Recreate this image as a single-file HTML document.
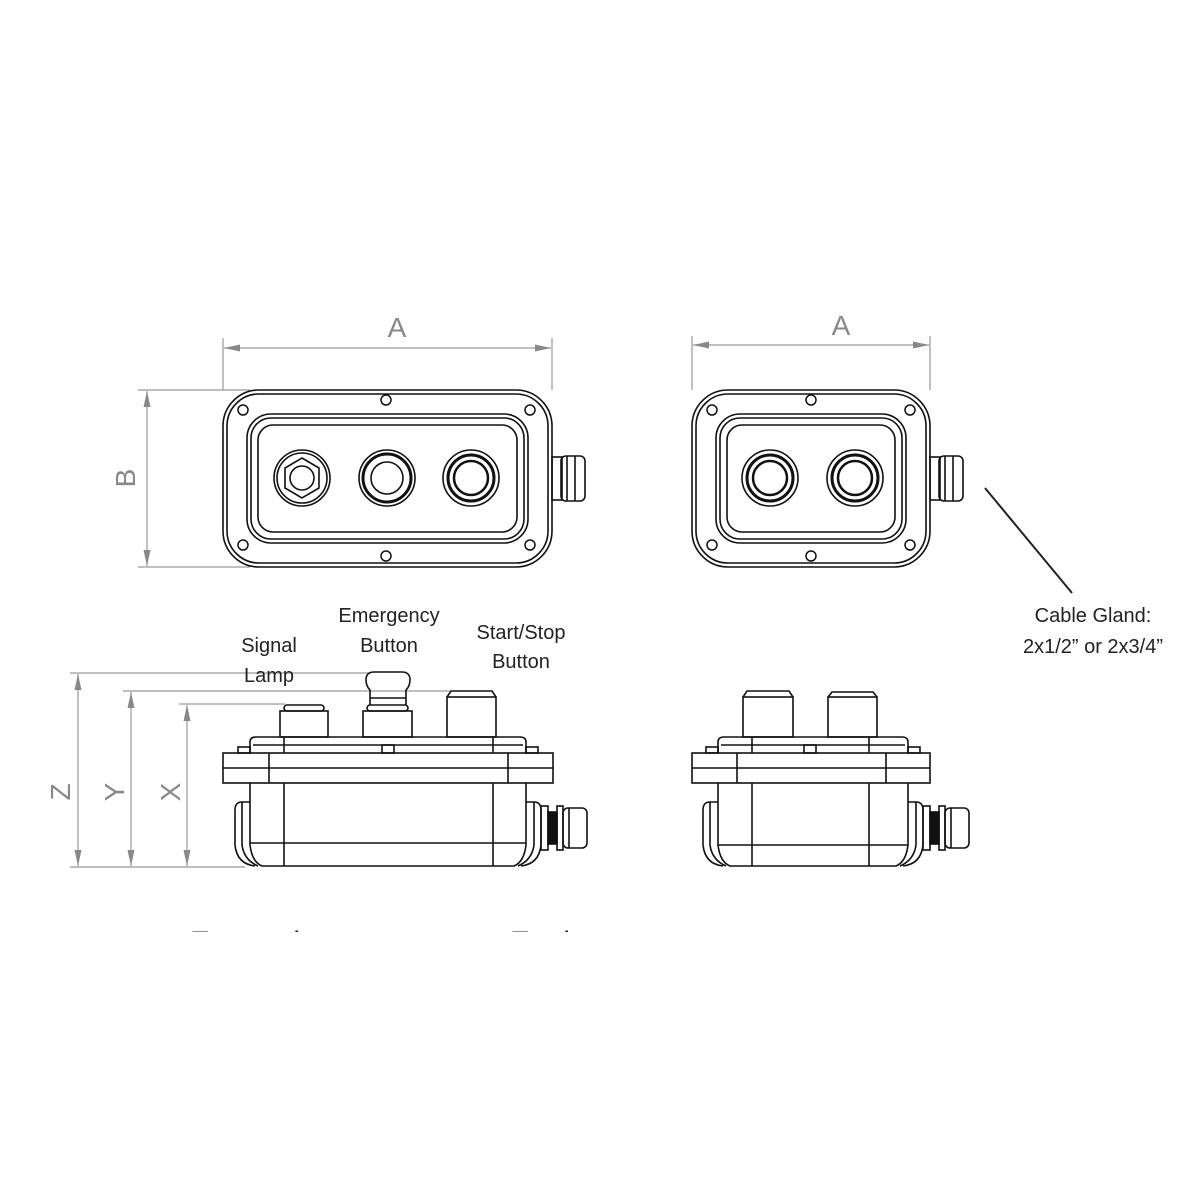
<!DOCTYPE html>
<html><head><meta charset="utf-8"><style>
html,body{margin:0;padding:0;background:#fff;}
svg{display:block;}
text{font-family:"Liberation Sans",sans-serif;}
</style></head><body>
<svg width="1200" height="1200" viewBox="0 0 1200 1200" xmlns="http://www.w3.org/2000/svg">
<defs>
<marker id="ar" viewBox="0 0 16 16" refX="16" refY="8" markerWidth="16" markerHeight="16" orient="auto-start-reverse" markerUnits="userSpaceOnUse"><path d="M0,4.5 L16,8 L0,11.5 Z" fill="#888"/></marker>
<clipPath id="cb"><rect x="0" y="0" width="1200" height="932"/></clipPath>
</defs>
<g stroke="#999" stroke-width="1.2" fill="none">
<line x1="223" y1="338" x2="223" y2="390"/><line x1="552" y1="338" x2="552" y2="390"/>
<line x1="224" y1="348" x2="551" y2="348" marker-start="url(#ar)" marker-end="url(#ar)"/>
<line x1="138" y1="390" x2="250" y2="390"/><line x1="138" y1="567" x2="250" y2="567"/>
<line x1="147" y1="391" x2="147" y2="566" marker-start="url(#ar)" marker-end="url(#ar)"/>
<line x1="692" y1="336" x2="692" y2="390"/><line x1="930" y1="336" x2="930" y2="390"/>
<line x1="693" y1="345" x2="929" y2="345" marker-start="url(#ar)" marker-end="url(#ar)"/>
<line x1="70" y1="673" x2="370" y2="673"/>
<line x1="123" y1="691" x2="450" y2="691"/>
<line x1="179" y1="704" x2="285" y2="704"/>
<line x1="70" y1="867" x2="245" y2="867"/>
<line x1="78" y1="674" x2="78" y2="866" marker-start="url(#ar)" marker-end="url(#ar)"/>
<line x1="131" y1="692" x2="131" y2="866" marker-start="url(#ar)" marker-end="url(#ar)"/>
<line x1="187" y1="705" x2="187" y2="866" marker-start="url(#ar)" marker-end="url(#ar)"/>
</g>
<g fill="#888" font-size="28">
<text x="397" y="337" text-anchor="middle">A</text>
<text x="841" y="335" text-anchor="middle">A</text>
<text transform="translate(135,478) rotate(-90)" text-anchor="middle">B</text>
<text transform="translate(70,792) rotate(-90)" text-anchor="middle">Z</text>
<text transform="translate(124,792) rotate(-90)" text-anchor="middle">Y</text>
<text transform="translate(180,792) rotate(-90)" text-anchor="middle">X</text>
</g>
<g fill="#222" font-size="20" text-anchor="middle">
<text x="269" y="652">Signal</text><text x="269" y="682">Lamp</text>
<text x="389" y="622">Emergency</text><text x="389" y="652">Button</text>
<text x="521" y="639">Start/Stop</text><text x="521" y="668">Button</text>
<text x="1093" y="622">Cable Gland:</text><text x="1093" y="653">2x1/2” or 2x3/4”</text>
</g>
<line x1="985" y1="488" x2="1072" y2="593" stroke="#222" stroke-width="2"/>
<g clip-path="url(#cb)" fill="#222" font-size="30"><text x="190" y="952">External</text><text x="510" y="952">Engine</text></g>

<g stroke="#111" stroke-width="1.6" fill="none">
<rect x="223" y="390" width="329" height="177" rx="36"/>
<rect x="227" y="394" width="321" height="169" rx="32"/>
<rect x="247" y="414" width="281" height="129" rx="24"/>
<rect x="251" y="418" width="273" height="121" rx="20"/>
<rect x="258" y="425" width="259" height="107" rx="15"/>
<circle cx="302" cy="478" r="28"/><circle cx="302" cy="478" r="25"/><polygon points="302,458 319,468 319,488 302,498 285,488 285,468"/><circle cx="302" cy="478" r="12"/>
<circle cx="387" cy="478" r="28"/><circle cx="387" cy="478" r="24" stroke-width="3"/><circle cx="387" cy="478" r="16"/>
<circle cx="471" cy="478" r="28"/><circle cx="471" cy="478" r="23" stroke-width="3"/><circle cx="471" cy="478" r="17" stroke-width="2.5"/>
<rect x="552" y="457" width="10" height="43"/><rect x="561" y="456" width="24" height="45" rx="5"/><line x1="567" y1="456" x2="567" y2="501"/><line x1="575" y1="456" x2="575" y2="501"/>
<rect x="692" y="390" width="238" height="177" rx="36"/>
<rect x="696" y="394" width="230" height="169" rx="32"/>
<rect x="716" y="414" width="190" height="129" rx="24"/>
<rect x="720" y="418" width="182" height="121" rx="20"/>
<rect x="727" y="425" width="168" height="107" rx="15"/>
<circle cx="770" cy="478" r="28"/><circle cx="770" cy="478" r="23" stroke-width="3"/><circle cx="770" cy="478" r="17" stroke-width="2.5"/>
<circle cx="855" cy="478" r="28"/><circle cx="855" cy="478" r="23" stroke-width="3"/><circle cx="855" cy="478" r="17" stroke-width="2.5"/>
<rect x="930" y="457" width="10" height="43"/><rect x="939" y="456" width="24" height="45" rx="5"/><line x1="945" y1="456" x2="945" y2="501"/><line x1="953" y1="456" x2="953" y2="501"/>
</g>
<g stroke="#111" stroke-width="1.5" fill="none">
<circle cx="243" cy="410" r="5"/><circle cx="386" cy="400" r="5"/><circle cx="530" cy="410" r="5"/>
<circle cx="243" cy="545" r="5"/><circle cx="386" cy="556" r="5"/><circle cx="530" cy="545" r="5"/>
<circle cx="712" cy="410" r="5"/><circle cx="811" cy="400" r="5"/><circle cx="910" cy="410" r="5"/>
<circle cx="712" cy="545" r="5"/><circle cx="811" cy="556" r="5"/><circle cx="910" cy="545" r="5"/>
</g>

<g stroke="#111" stroke-width="1.6" fill="none">
<rect x="280" y="711" width="48" height="26"/><rect x="284" y="705" width="40" height="6" rx="3"/>
<rect x="363" y="711" width="49" height="26"/><rect x="367" y="705" width="41" height="6" rx="3"/>
<path d="M370,705 L370,690 Q366,686 366,680 Q366,672 374,672 L402,672 Q410,672 410,680 Q410,686 406,690 L406,705"/><line x1="370" y1="698" x2="406" y2="698"/>
<rect x="447" y="697" width="49" height="40"/><path d="M447,697 L451,691 L492,691 L496,697"/>
<path d="M250,753 L250,742 Q250,737 256,737 L520,737 Q526,737 526,742 L526,753"/>
<line x1="253" y1="745" x2="523" y2="745"/><line x1="284" y1="737" x2="284" y2="753"/><line x1="493" y1="737" x2="493" y2="753"/>
<rect x="382" y="745" width="12" height="8"/>
<rect x="238" y="747" width="12" height="6"/><rect x="526" y="747" width="12" height="6"/>
<rect x="223" y="753" width="330" height="30"/><line x1="223" y1="768" x2="553" y2="768"/>
<line x1="269" y1="753" x2="269" y2="783"/><line x1="508" y1="753" x2="508" y2="783"/>
<path d="M250,783 L250,845 Q252,862 262,866 L514,866 Q524,862 526,845 L526,783"/>
<line x1="284" y1="783" x2="284" y2="866"/><line x1="493" y1="783" x2="493" y2="866"/>
<line x1="250" y1="843" x2="526" y2="843"/>
<path d="M250,802 L242,802 Q235,802 235,810 L235,845 Q237,864 255,866"/><path d="M242,802 L242,845 Q244,860 258,866"/>
<path d="M526,802 L534,802 Q541,802 541,810 L541,845 Q539,864 521,866"/><path d="M534,802 L534,845 Q532,860 518,866"/>
<rect x="541" y="806" width="7" height="44"/><rect x="548" y="812" width="9" height="32" fill="#111"/>
<rect x="557" y="806" width="6" height="44"/><rect x="563" y="808" width="24" height="40" rx="5"/><line x1="569" y1="808" x2="569" y2="848"/>
<rect x="743" y="697" width="50" height="40"/><path d="M743,697 L747,691 L789,691 L793,697"/>
<rect x="828" y="697" width="49" height="40"/><path d="M828,697 L832,692 L873,692 L877,697"/>
<path d="M718,753 L718,742 Q718,737 724,737 L902,737 Q908,737 908,742 L908,753"/>
<line x1="721" y1="745" x2="905" y2="745"/><line x1="752" y1="737" x2="752" y2="753"/><line x1="869" y1="737" x2="869" y2="753"/>
<rect x="804" y="745" width="12" height="8"/>
<rect x="706" y="747" width="12" height="6"/><rect x="908" y="747" width="12" height="6"/>
<rect x="692" y="753" width="238" height="30"/><line x1="692" y1="768" x2="930" y2="768"/>
<line x1="737" y1="753" x2="737" y2="783"/><line x1="886" y1="753" x2="886" y2="783"/>
<path d="M718,783 L718,845 Q720,862 730,866 L896,866 Q906,862 908,845 L908,783"/>
<line x1="752" y1="783" x2="752" y2="866"/><line x1="869" y1="783" x2="869" y2="866"/>
<line x1="718" y1="845" x2="908" y2="845"/>
<path d="M718,802 L710,802 Q703,802 703,810 L703,845 Q705,864 723,866"/><path d="M710,802 L710,845 Q712,860 726,866"/>
<path d="M908,802 L916,802 Q923,802 923,810 L923,845 Q921,864 903,866"/><path d="M916,802 L916,845 Q914,860 900,866"/>
<rect x="923" y="806" width="7" height="44"/><rect x="930" y="812" width="9" height="32" fill="#111"/>
<rect x="939" y="806" width="6" height="44"/><rect x="945" y="808" width="24" height="40" rx="5"/><line x1="951" y1="808" x2="951" y2="848"/>
</g>
</svg>
</body></html>
